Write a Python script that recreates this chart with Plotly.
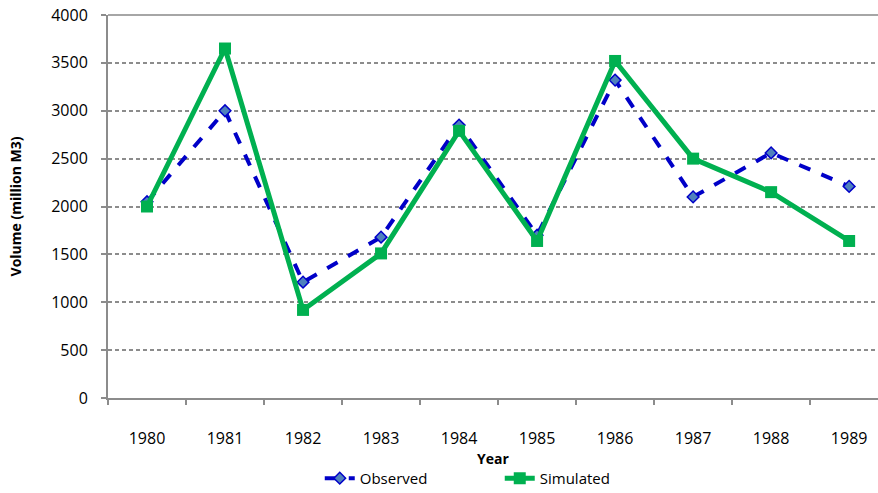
import plotly.graph_objects as go

years = ["1980", "1981", "1982", "1983", "1984", "1985", "1986", "1987", "1988", "1989"]
observed = [2050, 3000, 1210, 1680, 2850, 1700, 3320, 2100, 2560, 2210]
simulated = [2000, 3650, 920, 1510, 2790, 1640, 3520, 2500, 2150, 1640]

FONT = "Open Sans"

fig = go.Figure()
fig.add_trace(go.Scatter(
    x=years, y=observed, name="Observed", mode="lines+markers",
    line=dict(color="#0000C8", width=4, dash="dash"),
    marker=dict(symbol="diamond", size=9, color="#4F81BD",
                line=dict(color="#0000C8", width=1.5)),
))
fig.add_trace(go.Scatter(
    x=years, y=simulated, name="Simulated", mode="lines+markers",
    line=dict(color="#00B050", width=5),
    marker=dict(symbol="square", size=12, color="#00B050"),
))

fig.update_layout(
    width=878, height=493,
    margin=dict(l=108, r=0, t=15, b=95, autoexpand=False),
    paper_bgcolor="white", plot_bgcolor="white",
    font=dict(family=FONT, size=16, color="black"),
    showlegend=True,
    legend=dict(orientation="h", x=0.275, xanchor="left", y=-0.21, yanchor="middle",
                font=dict(family=FONT, size=15), traceorder="normal",
                entrywidth=135, entrywidthmode="pixels"),
    xaxis=dict(
        type="category", range=[-0.5, 9.37], automargin=False,
        showline=True, linecolor="#8C8C8C", linewidth=2,
        ticks="outside", tickson="boundaries", ticklen=5, tickcolor="#8C8C8C", tickwidth=1.5,
        showgrid=False,
        tickfont=dict(family=FONT, size=16),
        ticklabelstandoff=25,
        title=dict(text="<b>Year</b>", font=dict(family=FONT, size=14), standoff=2),
    ),
    yaxis=dict(
        range=[0, 4000], tickvals=[0, 500, 1000, 1500, 2000, 2500, 3000, 3500, 4000],
        automargin=False,
        showline=True, linecolor="#8C8C8C", linewidth=2,
        ticks="outside", ticklen=5, tickcolor="#8C8C8C", tickwidth=1.5,
        showgrid=True, gridcolor="#8C8C8C", griddash="4px,3px", gridwidth=1.5,
        zeroline=False,
        tickfont=dict(family=FONT, size=16),
        ticklabelstandoff=10,
        title=dict(text="<b>Volume (million M3)</b>", font=dict(family=FONT, size=14), standoff=26),
    ),
)
fig.add_shape(type="line", xref="paper", yref="paper", x0=0, x1=1, y0=1, y1=1,
              line=dict(color="#A6A6A6", width=2), layer="below")

fig.write_html("out.html", config={"displayModeBar": False},
               post_script="document.body.style.margin='0';document.body.style.overflow='hidden';")
